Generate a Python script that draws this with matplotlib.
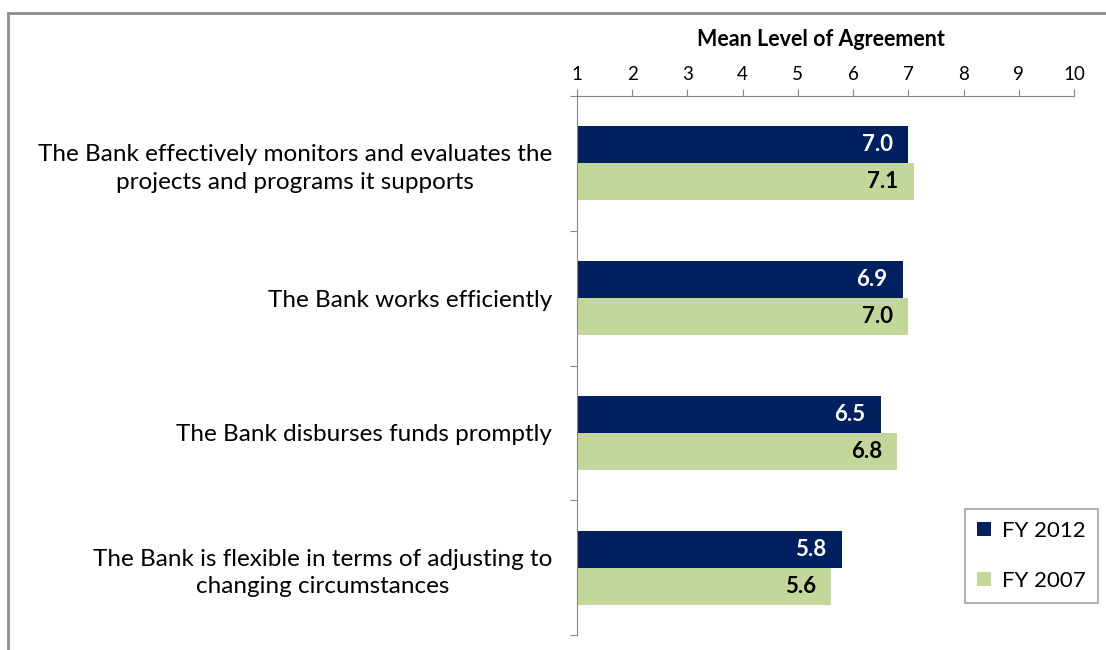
import numpy as np
import matplotlib.pyplot as plt
from matplotlib.patches import Rectangle

plt.rcParams['font.family'] = ['Lato', 'DejaVu Sans']

statements = ["The Bank effectively monitors and evaluates the\nprojects and programs it supports",
              "The Bank works efficiently",
              "The Bank disburses funds promptly",
              "The Bank is flexible in terms of adjusting to\nchanging circumstances"]
fy2012 = [7.0, 6.9, 6.5, 5.8]
fy2007 = [7.1, 7.0, 6.8, 5.6]
xticks = list(range(1, 11))

navy = '#002060'
green = '#C4D79B'
axis_grey = '#868686'

fig = plt.figure(figsize=(11.06, 6.5), dpi=100)
# outer chart border
fig.patches.append(Rectangle((8 / 1106, -0.1), 1.2, 1 - 13 / 650 + 0.1,
                             transform=fig.transFigure, fill=False,
                             edgecolor='#8c8c8c', linewidth=2))

ax = fig.add_axes([577 / 1106, 1 - 635 / 650, (1074 - 577) / 1106, (635 - 96) / 650])

y = np.arange(len(statements))
h = 0.275
ax.barh(y - h / 2, np.array(fy2012) - 1, left=1, height=h, color=navy, label='FY 2012')
ax.barh(y + h / 2, np.array(fy2007) - 1, left=1, height=h, color=green, label='FY 2007')

for yy, v in zip(y, fy2012):
    ax.annotate(f'{v:.1f}', (v, yy - h / 2), xytext=(-11, 0), textcoords='offset points',
                ha='right', va='center', color='white', fontsize=16, fontweight='bold')
for yy, v in zip(y, fy2007):
    ax.annotate(f'{v:.1f}', (v, yy + h / 2), xytext=(-11, 0), textcoords='offset points',
                ha='right', va='center', color='black', fontsize=16, fontweight='bold')

ax.set_xlim(1, 10)
ax.set_ylim(len(statements) - 0.5, -0.5)
ax.xaxis.tick_top()
ax.xaxis.set_label_position('top')
ax.set_xticks(xticks)
ax.tick_params(axis='x', labelsize=13.5, length=5, color=axis_grey, pad=4)
ax.set_xlabel('Mean Level of Agreement', fontsize=15.5, fontweight='bold', labelpad=15)
ax.xaxis.label.set_x(0.49)

ax.set_yticks(np.arange(-0.5, len(statements), 1.0))
ax.set_yticklabels([])
ax.tick_params(axis='y', which='major', length=5, color=axis_grey)
ax.set_yticks(y, minor=True)
ax.set_yticklabels(statements, minor=True, fontsize=17.5)
ax.tick_params(axis='y', which='minor', length=0, pad=18)
for t in ax.get_yticklabels(minor=True):
    t.set_multialignment('center')
    t.set_linespacing(1.4)

for s in ['right', 'bottom']:
    ax.spines[s].set_visible(False)
for s in ['left', 'top']:
    ax.spines[s].set_color(axis_grey)

leg = ax.legend(loc='lower right', bbox_to_anchor=(1.048, 0.059), borderaxespad=0,
                fontsize=16, handlelength=0.6, handleheight=0.6, handletextpad=0.5,
                labelspacing=1.35, fancybox=False, edgecolor='#8c8c8c',
                borderpad=0.55)
leg.get_frame().set_linewidth(1.2)

fig.savefig('out.png', dpi=100)
